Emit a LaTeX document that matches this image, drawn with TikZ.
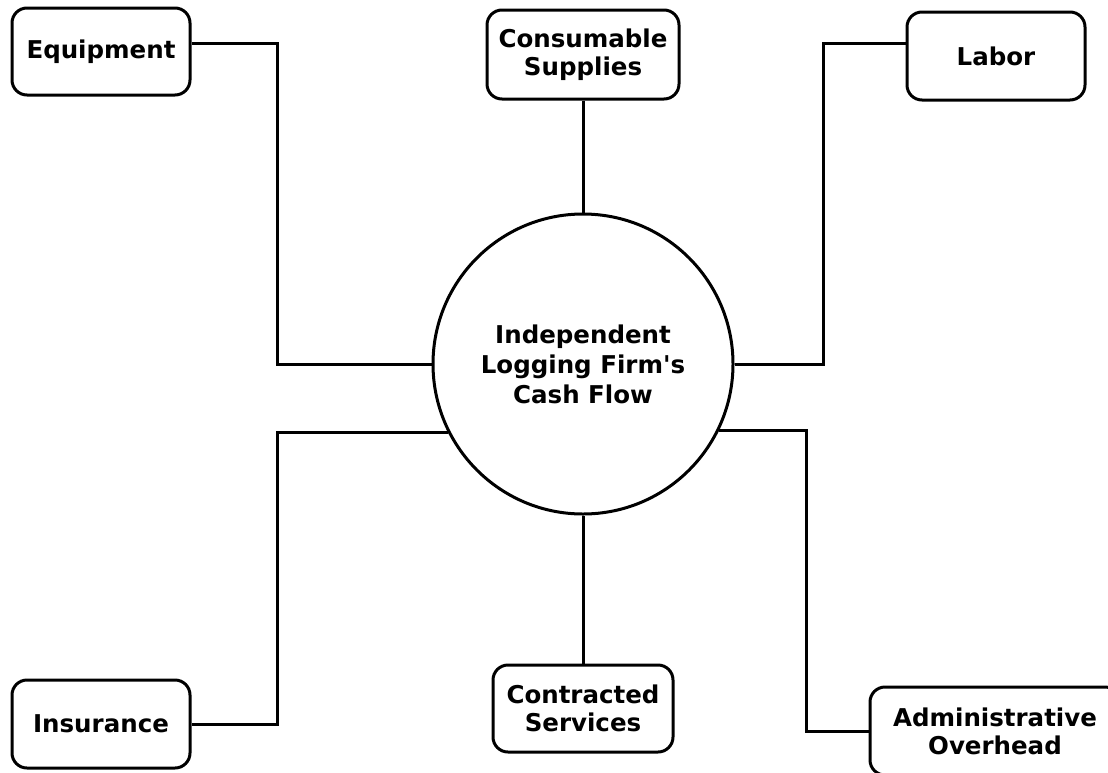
\documentclass[tikz,border=0pt]{standalone}
\usepackage{fontspec}
\setmainfont{DejaVu Sans}
\begin{document}
\begin{tikzpicture}[x=1pt,y=-1pt,
  line width=3pt,
  cost/.style={draw, rounded corners=15pt, fill=white, align=center,
    inner sep=0pt, font=\fontsize{24.5}{28}\selectfont\bfseries},
  hub/.style={draw, circle, minimum size=300pt, inner sep=0pt, align=center,
    font=\fontsize{24.5}{30}\selectfont\bfseries},
  link/.style={line width=3pt}]
\useasboundingbox (0,0) rectangle (1108,772);
\clip (0,0) rectangle (1108,772);

% central cash-flow circle
\node[hub] (cf) at (583,364) {Independent\\Logging Firm\textquotesingle s\\Cash Flow};

% cost categories
\node[cost, minimum width=178pt, minimum height=87pt] (eq) at (101,51.5) {Equipment};
\node[cost, minimum width=192pt, minimum height=89pt] (cs) at (583,54.5) {Consumable\\Supplies};
\node[cost, minimum width=178pt, minimum height=88pt] (lab) at (996,56) {Labor};
\node[cost, minimum width=178pt, minimum height=88pt] (ins) at (101,724) {Insurance};
\node[cost, minimum width=180pt, minimum height=87pt] (con) at (583,708.5) {Contracted\\Services};
\node[cost, minimum width=250pt, minimum height=88pt] (adm) at (995,731) {Administrative\\Overhead};

% connectors
\draw[link] (eq.east |- 0,43) -| (277,364) -- (cf.west);
\draw[link] (cs.south) -- (cf.north);
\draw[link] (lab.west |- 0,43) -| (823,364) -- (cf.east);
\draw[link] (cf.-153.7) -- (cf.-153.7 -| 277,0) |- (ins.east);
\draw[link] (con.north) -- (cf.south);
\draw[link] (cf.-26.3) -- (cf.-26.3 -| 806,0) |- (adm.west);
\end{tikzpicture}
\end{document}
